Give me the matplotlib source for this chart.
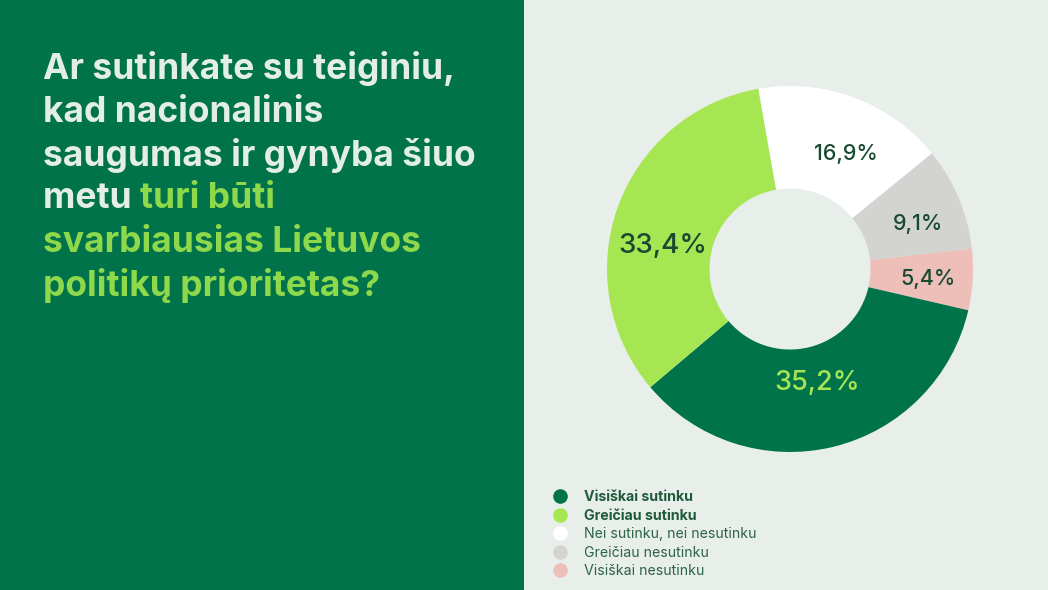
import numpy as np
import matplotlib
matplotlib.use("Agg")
import matplotlib.pyplot as plt
from matplotlib.lines import Line2D
from matplotlib.patches import Rectangle

categories = ["Nei sutinku, nei nesutinku", "Greičiau nesutinku", "Visiškai nesutinku",
              "Visiškai sutinku", "Greičiau sutinku"]
values = [16.9, 9.1, 5.4, 35.2, 33.4]
labels = ["16,9%", "9,1%", "5,4%", "35,2%", "33,4%"]
legend_order = ["Visiškai sutinku", "Greičiau sutinku", "Nei sutinku, nei nesutinku",
                "Greičiau nesutinku", "Visiškai nesutinku"]

DARK = "#00734a"
LIGHT = "#a6e652"
colors = {
    "Visiškai sutinku": DARK,
    "Greičiau sutinku": LIGHT,
    "Nei sutinku, nei nesutinku": "#ffffff",
    "Greičiau nesutinku": "#d3d4d2",
    "Visiškai nesutinku": "#eebeb8",
}
BG = "#e8eeea"
TXT = "#174a30"

plt.rcParams["font.family"] = ["Inter", "DejaVu Sans"]

fig = plt.figure(figsize=(10.48, 5.9), dpi=100)
fig.patch.set_facecolor(BG)
fig.add_artist(Rectangle((0, 0), 524 / 1048, 1, transform=fig.transFigure,
                         facecolor=DARK, edgecolor="none", zorder=0))

# title
title_lines = ["Ar sutinkate su teiginiu,", "kad nacionalinis", "saugumas ir gynyba šiuo"]
green_lines = ["svarbiausias Lietuvos", "politikų prioritetas?"]
x0 = 43 / 1048
y_first = 1 - 69 / 590
step = 43.3 / 590
tkw = dict(fontsize=25.5, fontweight="bold", va="center", ha="left")
for i, line in enumerate(title_lines):
    fig.text(x0, y_first - i * step, line, color="#e4eee8", **tkw)
t = fig.text(x0, y_first - 3 * step, "metu ", color="#e4eee8", **tkw)
r = fig.canvas.get_renderer()
bb = t.get_window_extent(renderer=r)
fig.text(bb.x1 / fig.bbox.width, y_first - 3 * step, "turi būti", color="#8ed94b", **tkw)
for i, line in enumerate(green_lines):
    fig.text(x0, y_first - (4 + i) * step, line, color="#8ed94b", **tkw)

# donut
cx, cy, R = 790, 269, 183
ax = fig.add_axes([(cx - R) / 1048, (590 - cy - R) / 590, 2 * R / 1048, 2 * R / 590])
wedges, _ = ax.pie(values, colors=[colors[c] for c in categories], startangle=100,
                   counterclock=False, radius=1.0,
                   wedgeprops=dict(width=0.56, linewidth=0))
ax.set_xlim(-1, 1)
ax.set_ylim(-1, 1)
ax.set_aspect("equal")
ax.axis("off")

# label placement inside each wedge: fraction along the wedge (clockwise), radius
label_frac = [0.59, 0.60, 0.54, 0.50, 0.42]
label_r = [0.70, 0.74, 0.755, 0.64, 0.705]
label_size = [15.5, 15.5, 15.5, 19.5, 20]
label_col = [TXT, TXT, TXT, LIGHT, TXT]
for w, lab, f, rr, fs, col in zip(wedges, labels, label_frac, label_r, label_size, label_col):
    ang = np.deg2rad(w.theta2 - f * (w.theta2 - w.theta1))
    ax.text(rr * np.cos(ang), rr * np.sin(ang), lab, ha="center", va="center",
            fontsize=fs, color=col, fontweight="medium")

# legend
handles = [Line2D([], [], marker="o", linestyle="none", markersize=10.5,
                  markerfacecolor=colors[c], markeredgecolor="none") for c in legend_order]
leg = fig.legend(handles, legend_order, loc="upper left",
                 bbox_to_anchor=(553 / 1048, 1 - 490 / 590), frameon=False,
                 fontsize=10.2, handlelength=1.0, handletextpad=1.2,
                 labelspacing=0.32, borderpad=0, borderaxespad=0)
for i, txt in enumerate(leg.get_texts()):
    txt.set_color("#1f5a3a" if i < 2 else "#2c6446")
    if i < 2:
        txt.set_fontweight("bold")

fig.savefig("out.png", dpi=100, facecolor=fig.get_facecolor())
